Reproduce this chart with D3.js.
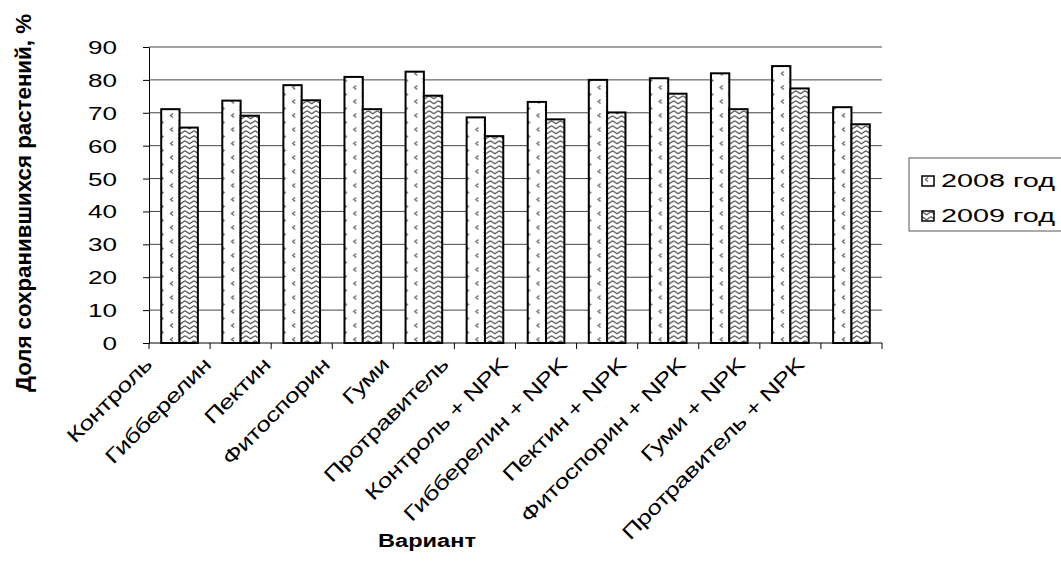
<!DOCTYPE html>
<html>
<head>
<meta charset="utf-8">
<script src="https://d3js.org/d3.v7.min.js"></script>
<style>
  body { margin: 0; background: #fff; }
  text { font-family: "Liberation Sans", Arial, sans-serif; fill: #000; }
</style>
</head>
<body>
<div id="chart"></div>
<script>
// ==========================
// Data
// ==========================
const categories = [
    "Контроль", "Гибберелин", "Пектин", "Фитоспорин", "Гуми", "Протравитель",
    "Контроль + NPK", "Гибберелин + NPK", "Пектин + NPK", "Фитоспорин + NPK",
    "Гуми + NPK", "Протравитель + NPK"
];
const seriesNames = ["2008 год", "2009 год"];
const values2008 = [71.1, 73.7, 78.4, 80.9, 82.5, 68.6, 73.3, 80.0, 80.5, 82.0, 84.2, 71.7];
const values2009 = [65.5, 69.1, 73.8, 71.1, 75.2, 62.9, 68.0, 70.1, 75.8, 71.1, 77.4, 66.5];
const yTicks = [0, 10, 20, 30, 40, 50, 60, 70, 80, 90];

// ==========================
// Dimensions
// ==========================
const width = 1061;
const height = 565;
const plot = { left: 149, right: 882, top: 47, bottom: 343 };

const svg = d3.select("#chart")
    .append("svg")
    .attr("width", width)
    .attr("height", height);

// ==========================
// Patterns
// ==========================
const defs = svg.append("defs");

const p08 = defs.append("pattern")
    .attr("id", "pat2008")
    .attr("patternUnits", "userSpaceOnUse")
    .attr("width", 18)
    .attr("height", 14);
p08.append("rect").attr("width", 18).attr("height", 14).attr("fill", "#fff");
p08.append("path").attr("d", "M6,1.5 L3.5,3.5 L6,5.5").attr("fill", "none").attr("stroke", "#666").attr("stroke-width", 1.3);
p08.append("path").attr("d", "M11.5,8.5 L14,10.5 L11.5,12.5").attr("fill", "none").attr("stroke", "#666").attr("stroke-width", 1.3);

const p09 = defs.append("pattern")
    .attr("id", "pat2009")
    .attr("patternUnits", "userSpaceOnUse")
    .attr("width", 9)
    .attr("height", 5);
p09.append("rect").attr("width", 9).attr("height", 5).attr("fill", "#fff");
p09.append("path").attr("d", "M0,0.8 L4.5,3.8 L9,0.8").attr("fill", "none").attr("stroke", "#555").attr("stroke-width", 1.3);

const fills = ["url(#pat2008)", "url(#pat2009)"];

// ==========================
// Scales
// ==========================
const x = d3.scaleBand()
    .domain(categories)
    .range([plot.left, plot.right]);

const x1 = d3.scaleBand()
    .domain(seriesNames)
    .range([x.bandwidth() * 0.2, x.bandwidth() * 0.8]);

const y = d3.scaleLinear()
    .domain([0, 90])
    .range([plot.bottom, plot.top]);

// labels in the original sit on a slightly tighter step than the bars
const labelX = d3.scaleBand()
    .domain(categories)
    .range([153, 153 + categories.length * 59.3]);

// ==========================
// Gridlines
// ==========================
svg.append("g")
    .selectAll("line")
    .data(yTicks.filter(d => d > 0))
    .enter()
    .append("line")
    .attr("x1", plot.left)
    .attr("x2", plot.right)
    .attr("y1", d => y(d))
    .attr("y2", d => y(d))
    .attr("stroke", "#444")
    .attr("stroke-width", 1);

// ==========================
// Bars
// ==========================
const rows = categories.map((c, i) => ({
    cat: c,
    vals: [values2008[i], values2009[i]]
}));

const groups = svg.append("g")
    .selectAll("g")
    .data(rows)
    .enter()
    .append("g")
    .attr("transform", d => `translate(${x(d.cat)},0)`);

groups.selectAll("rect")
    .data(d => d.vals.map((v, k) => ({ key: seriesNames[k], v: v, k: k })))
    .enter()
    .append("rect")
    .attr("x", d => x1(d.key))
    .attr("y", d => y(d.v))
    .attr("width", x1.bandwidth())
    .attr("height", d => y(0) - y(d.v))
    .attr("fill", d => fills[d.k])
    .attr("stroke", "#000")
    .attr("stroke-width", 2);

// ==========================
// Axes
// ==========================
const yAxis = svg.append("g")
    .attr("transform", `translate(${plot.left},0)`)
    .call(d3.axisLeft(y).tickValues(yTicks).tickSize(6).tickSizeOuter(0));
yAxis.select(".domain").attr("stroke", "#000");
yAxis.selectAll(".tick line").attr("stroke", "#000");
yAxis.selectAll(".tick text")
    .attr("x", -22)
    .attr("dy", "0.36em")
    .attr("transform", "scale(1.45,1)")
    .attr("font-size", 18)
    .attr("font-family", "Liberation Sans, Arial, sans-serif");

// bottom axis: line + ticks at band edges
svg.append("line")
    .attr("x1", plot.left).attr("x2", plot.right)
    .attr("y1", plot.bottom).attr("y2", plot.bottom)
    .attr("stroke", "#000");

const edges = categories.map(c => x(c)).concat([plot.right]);
svg.append("g")
    .selectAll("line")
    .data(edges)
    .enter()
    .append("line")
    .attr("x1", d => d).attr("x2", d => d)
    .attr("y1", plot.bottom).attr("y2", plot.bottom + 6)
    .attr("stroke", "#000");

// category labels, rotated 45°
svg.append("g")
    .selectAll("text")
    .data(categories)
    .enter()
    .append("text")
    .attr("transform", d => `translate(${labelX(d)},366) rotate(-45) scale(1.32,1)`)
    .attr("text-anchor", "end")
    .attr("font-size", 20)
    .attr("letter-spacing", -0.4)
    .text(d => d);

// ==========================
// Axis titles
// ==========================
svg.append("text")
    .attr("transform", "translate(31,203) rotate(-90) scale(1,1.25)")
    .attr("text-anchor", "middle")
    .attr("font-size", 18)
    .attr("font-weight", "bold")
    .attr("textLength", 378)
    .attr("lengthAdjust", "spacingAndGlyphs")
    .text("Доля сохранившихся растений, %");

svg.append("text")
    .attr("x", 427)
    .attr("y", 547)
    .attr("text-anchor", "middle")
    .attr("font-size", 18)
    .attr("font-weight", "bold")
    .attr("textLength", 98)
    .attr("lengthAdjust", "spacingAndGlyphs")
    .text("Вариант");

// ==========================
// Legend
// ==========================
const legend = svg.append("g");

legend.append("rect")
    .attr("x", 909)
    .attr("y", 158)
    .attr("width", 170)
    .attr("height", 73)
    .attr("fill", "#fff")
    .attr("stroke", "#555");

const items = legend.selectAll(".legend-item")
    .data(seriesNames)
    .enter()
    .append("g")
    .attr("class", "legend-item")
    .attr("transform", (d, i) => `translate(922, ${176 + i * 35})`);

items.append("rect")
    .attr("width", 12)
    .attr("height", 10)
    .attr("fill", (d, i) => fills[i])
    .attr("stroke", "#000")
    .attr("stroke-width", 1.5);

items.append("text")
    .attr("x", 19)
    .attr("y", 11)
    .attr("font-size", 18)
    .attr("textLength", 114)
    .attr("lengthAdjust", "spacingAndGlyphs")
    .text(d => d);
</script>
</body>
</html>
